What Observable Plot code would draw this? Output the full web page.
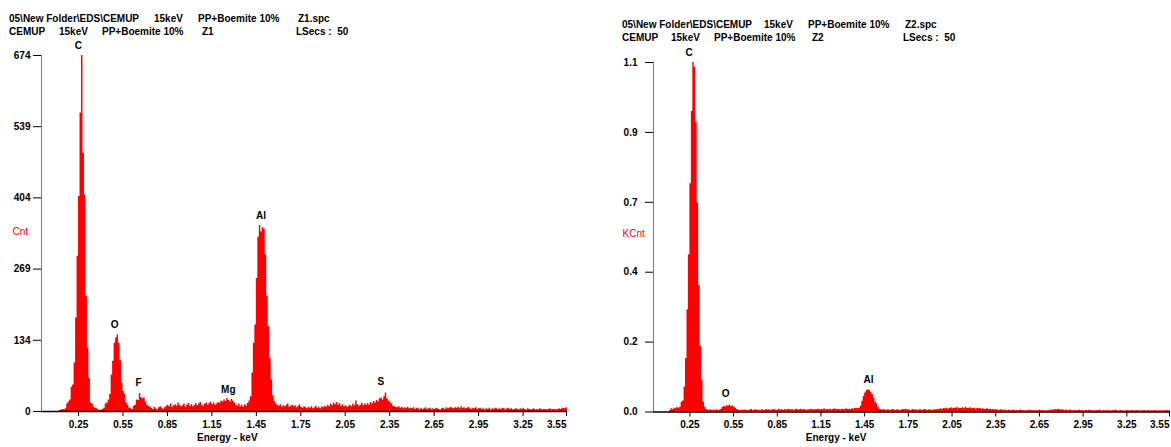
<!DOCTYPE html>
<html><head><meta charset="utf-8">
<script src="https://cdn.jsdelivr.net/npm/d3@7"></script>
<script src="https://cdn.jsdelivr.net/npm/@observablehq/plot@0.6"></script>
<style>
html,body{margin:0;padding:0;background:#fff;overflow:hidden;width:1171px;height:447px;position:relative;}
.panel{position:absolute;top:0;height:447px;overflow:hidden;}
.t{position:absolute;font:bold 10px "Liberation Sans",Arial,sans-serif;white-space:pre;color:#000;line-height:12px;}
svg{overflow:hidden;}
</style></head><body>
<div id="p1" class="panel" style="left:0;width:568px"></div>
<div id="p2" class="panel" style="left:600px;width:571px"></div>
<script>
// ---------- data ----------
const binWidth = 0.01; // keV per channel, channels start at 0 keV

// Z1 spectrum: counts per 0.01 keV channel
const countsZ1 = [
  0,0,0,0,0,0,0,0,0,0,
  0,0,2,3,4,3,5,14,18,22,
  46,50,92,177,294,407,565,674,489,410,
  218,120,63,16,14,8,6,5,3,2,
  3,4,6,14,16,22,32,69,95,129,
  139,145,129,96,54,38,32,16,12,6,
  5,4,10,12,22,21,34,26,24,26,
  18,12,10,8,6,4,8,5,3,7,
  9,6,4,7,10,12,9,14,8,11,
  13,10,16,12,9,11,14,8,12,15,
  10,13,9,12,15,11,14,17,12,10,
  14,16,12,15,18,13,16,12,14,17,
  15,20,18,22,19,24,21,18,23,20,
  16,12,10,14,9,12,8,13,10,15,
  20,28,73,129,164,252,330,352,340,348,
  345,297,218,161,100,60,30,19,14,12,
  10,13,8,11,9,12,14,8,10,12,
  9,11,7,10,13,8,6,9,7,5,
  8,6,9,5,7,10,6,8,5,9,
  7,10,8,12,9,14,11,16,13,17,
  12,15,10,13,9,11,8,10,12,9,
  14,11,20,13,10,12,16,11,14,12,
  15,12,17,14,19,16,21,18,24,26,
  22,28,35,24,20,17,14,10,9,8,
  7,9,6,8,5,7,6,8,5,6,
  5,7,4,6,5,3,6,4,5,7,
  4,5,6,3,5,4,6,5,4,3,
  5,6,4,7,5,6,8,6,5,7,
  6,8,5,9,6,7,5,6,8,5,
  4,6,5,7,4,5,6,4,5,3,
  5,4,6,3,5,4,6,5,4,5,
  4,6,5,3,5,6,4,5,3,4,
  5,4,3,5,4,6,4,3,5,4,
  3,4,5,3,4,3,5,4,3,4,
  4,3,4,5,3,4,3,4,3,5,
  4,5,6,5,7
];

// Z2 spectrum: kilo-counts per 0.01 keV channel
const kcntZ2 = [
  0,0,0,0,0,0,0,0,0,0,
  0,0.005,0.01,0.008,0.012,0.01,0.014,0.012,0.016,0.031,
  0.035,0.079,0.168,0.322,0.495,0.718,0.946,1.1,1.085,0.912,
  0.658,0.398,0.207,0.1,0.031,0.015,0.008,0.006,0.005,0.007,
  0.004,0.006,0.005,0.007,0.004,0.006,0.008,0.014,0.018,0.016,
  0.02,0.018,0.022,0.017,0.019,0.015,0.012,0.008,0.006,0.005,
  0.004,0.006,0.005,0.007,0.004,0.005,0.006,0.008,0.005,0.006,
  0.007,0.005,0.006,0.004,0.007,0.006,0.005,0.008,0.006,0.007,
  0.005,0.007,0.006,0.008,0.005,0.006,0.009,0.006,0.007,0.005,
  0.008,0.006,0.007,0.009,0.006,0.008,0.005,0.007,0.009,0.006,
  0.007,0.009,0.006,0.008,0.007,0.005,0.008,0.006,0.009,0.007,
  0.006,0.008,0.007,0.009,0.006,0.008,0.007,0.01,0.006,0.008,
  0.007,0.009,0.006,0.008,0.01,0.007,0.009,0.008,0.006,0.009,
  0.008,0.007,0.01,0.008,0.009,0.007,0.01,0.009,0.012,0.011,
  0.01,0.012,0.018,0.034,0.049,0.06,0.067,0.07,0.068,0.062,
  0.055,0.044,0.031,0.025,0.015,0.009,0.007,0.006,0.008,0.005,
  0.006,0.007,0.005,0.006,0.008,0.006,0.005,0.007,0.006,0.005,
  0.006,0.008,0.007,0.009,0.006,0.007,0.005,0.006,0.008,0.006,
  0.007,0.005,0.006,0.007,0.005,0.006,0.008,0.006,0.005,0.007,
  0.006,0.005,0.007,0.006,0.008,0.007,0.009,0.01,0.008,0.011,
  0.01,0.012,0.009,0.011,0.013,0.01,0.012,0.011,0.014,0.01,
  0.012,0.011,0.013,0.01,0.015,0.012,0.011,0.013,0.01,0.012,
  0.011,0.009,0.012,0.01,0.011,0.009,0.01,0.008,0.009,0.01,
  0.008,0.009,0.007,0.008,0.006,0.007,0.006,0.005,0.007,0.006,
  0.005,0.006,0.004,0.005,0.006,0.004,0.005,0.006,0.004,0.005,
  0.004,0.005,0.006,0.004,0.005,0.003,0.005,0.004,0.006,0.005,
  0.004,0.005,0.003,0.005,0.004,0.006,0.004,0.005,0.004,0.003,
  0.005,0.004,0.006,0.005,0.007,0.006,0.008,0.007,0.009,0.006,
  0.007,0.006,0.005,0.006,0.004,0.005,0.006,0.004,0.005,0.004,
  0.005,0.004,0.006,0.004,0.005,0.003,0.004,0.005,0.004,0.006,
  0.004,0.005,0.003,0.004,0.005,0.004,0.006,0.004,0.003,0.005,
  0.004,0.003,0.005,0.004,0.003,0.005,0.004,0.006,0.004,0.003,
  0.004,0.005,0.003,0.004,0.003,0.005,0.004,0.003,0.004,0.005,
  0.003,0.004,0.005,0.003,0.004,0.003,0.004,0.005,0.003,0.004,
  0.004,0.003,0.004,0.003,0.005,0.004,0.003,0.004,0.003,0.004,
  0.003,0.004,0.005,0.004,0.004
];

// axes
const xTicks = [0.25, 0.55, 0.85, 1.15, 1.45, 1.75, 2.05, 2.35, 2.65, 2.95, 3.25, 3.55];
const xMaxKeV = 3.55;
const yMaxZ1 = 674;
const yTicksZ1 = [0, 134.8, 269.6, 404.4, 539.2, 674];
const yMaxZ2 = 1.1;
const yTicksZ2 = [0, 0.22, 0.44, 0.66, 0.88, 1.1];
const xLabel = "Energy - keV";
const yLabelZ1 = "Cnt";
const yLabelZ2 = "KCnt";

// peak labels
const peakNamesZ1 = ["C", "O", "F", "Mg", "Al", "S"];
const peakKeVZ1 = [0.248, 0.493, 0.655, 1.261, 1.482, 2.29];
const peakCntZ1 = [692, 165, 54, 42, 371, 56];
const peakNamesZ2 = ["C", "O", "Al"];
const peakKeVZ2 = [0.245, 0.496, 1.476];
const peakCntZ2 = [1.1316, 0.056, 0.1016];

// header lines
const header1Z1 = ["05\\New Folder\\EDS\\CEMUP", "15keV", "PP+Boemite 10%", "Z1.spc"];
const header2Z1 = ["CEMUP", "15keV", "PP+Boemite 10%", "Z1", "LSecs :  50"];
const header1Z2 = ["05\\New Folder\\EDS\\CEMUP", "15keV", "PP+Boemite 10%", "Z2.spc"];
const header2Z2 = ["CEMUP", "15keV", "PP+Boemite 10%", "Z2", "LSecs :  50"];

// ---------- build ----------
function series(vals) {
  const d = vals.map((v, i) => ({e: i * binWidth, v}));
  d.push({e: vals.length * binWidth, v: vals[vals.length - 1]});
  return d;
}

const FONT = '"Liberation Sans", Arial, sans-serif';
const fmtX = d3.format(".2f");

function panel(opts) {
  const inner = xTicks.slice(0, -1);
  const last = xTicks.slice(-1);
  return Plot.plot({
    width: opts.width, height: 447,
    marginLeft: opts.ml, marginRight: opts.mr, marginTop: opts.mt, marginBottom: opts.mb,
    style: {fontFamily: FONT, fontSize: "10px", fontWeight: "bold", background: "transparent", color: "#000"},
    x: {domain: [0, xMaxKeV], label: null, axis: null},
    y: {domain: [0, opts.ymax], ticks: opts.yticks, tickFormat: opts.yfmt, tickSize: 8, tickPadding: opts.ytp, label: null},
    marks: [
      Plot.areaY(series(opts.values), {x: "e", y: "v", curve: "step-after", fill: "#ff0000"}),
      Plot.ruleX([0], {stroke: "#7a7a7a", strokeWidth: 1}),
      Plot.ruleY([0], {stroke: "#000", strokeWidth: 1.5}),
      Plot.axisX(inner, {tickFormat: fmtX, tickSize: 5, tickPadding: 4, label: null}),
      Plot.axisX(last, {tickFormat: fmtX, tickSize: 5, tickPadding: 4, textAnchor: "end", dx: -1, label: null}),
      Plot.text(opts.names, {x: opts.px, y: opts.py, text: d => d, fontWeight: "bold", fontSize: 10, fill: "#000"}),
      Plot.text([xLabel], {x: [1.254], frameAnchor: "bottom", dy: 29, fontWeight: "bold", fontSize: 10, fill: "#000"}),
      Plot.text([opts.ylabel], {frameAnchor: "left", textAnchor: "start", dx: opts.ylx, dy: opts.yly, fill: "#ff0000", fontWeight: "normal", fontSize: 10})
    ]
  });
}

const p1 = panel({
  width: 568, ml: 41, mr: 1, mt: 55, mb: 36,
  ymax: yMaxZ1, yticks: yTicksZ1, yfmt: d => String(Math.floor(d + 1e-9)), ytp: 3,
  values: countsZ1, names: peakNamesZ1, px: peakKeVZ1, py: peakCntZ1,
  ylabel: yLabelZ1, ylx: -29, yly: -2
});
document.getElementById("p1").appendChild(p1);

const p2 = panel({
  width: 571, ml: 53, mr: 1, mt: 62, mb: 35.5,
  ymax: yMaxZ2, yticks: yTicksZ2, yfmt: d3.format(".1f"), ytp: 8,
  values: kcntZ2, names: peakNamesZ2, px: peakKeVZ2, py: peakCntZ2,
  ylabel: yLabelZ2, ylx: -31, yly: -3
});
document.getElementById("p2").appendChild(p2);

// headers (HTML text above the plots)
function header(parts, xs, top) {
  parts.forEach((s, i) => {
    const el = document.createElement("div");
    el.className = "t";
    el.style.left = xs[i] + "px";
    el.style.top = top + "px";
    el.textContent = s;
    document.body.appendChild(el);
  });
}
header(header1Z1, [9, 154, 198, 298], 13);
header(header2Z1, [9, 59, 102, 202, 296], 26);
header(header1Z2, [622, 764, 808, 905], 19);
header(header2Z2, [622, 671, 714, 812, 903], 32);
</script>
</body></html>
